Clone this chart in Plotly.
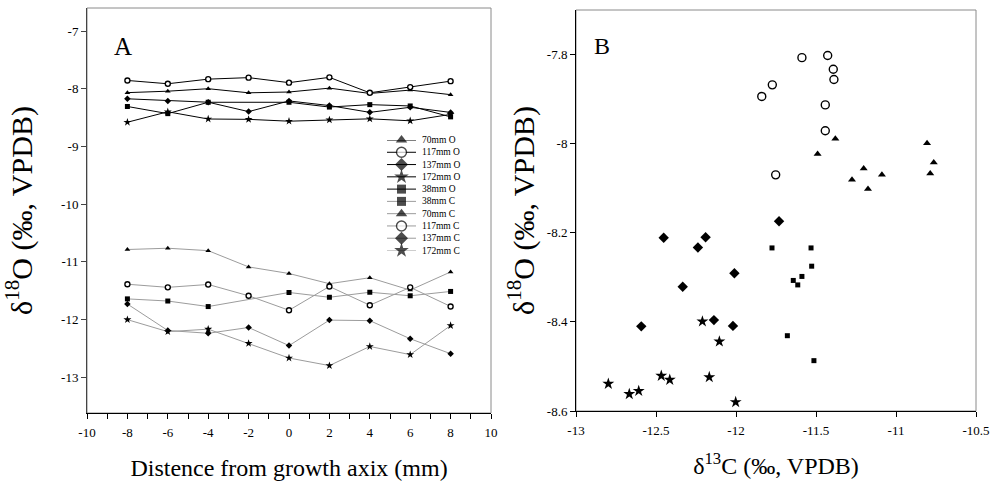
import plotly.graph_objects as go

# ---------------- data ----------------
positions = [-8, -6, -4, -2, 0, 2, 4, 6, 8]
positions_38 = [-8, -6, -4, 0, 2, 4, 6, 8]

o_70 = [-8.067, -8.042, -7.999, -8.070, -8.056, -7.989, -8.081, -8.023, -8.102]
c_70 = [-10.786, -10.764, -10.806, -11.088, -11.202, -11.379, -11.275, -11.490, -11.175]

o_117 = [-7.856, -7.913, -7.833, -7.807, -7.894, -7.802, -8.070, -7.971, -7.868]
c_117 = [-11.388, -11.442, -11.392, -11.588, -11.839, -11.427, -11.752, -11.442, -11.773]

o_137 = [-8.174, -8.210, -8.233, -8.396, -8.211, -8.291, -8.409, -8.321, -8.410]
c_137 = [-11.731, -12.190, -12.238, -12.138, -12.452, -12.010, -12.019, -12.333, -12.592]

o_172 = [-8.580, -8.399, -8.524, -8.530, -8.562, -8.539, -8.521, -8.555, -8.444]
c_172 = [-12.002, -12.210, -12.167, -12.414, -12.667, -12.798, -12.467, -12.608, -12.104]

o_38 = [-8.307, -8.431, -8.234, -8.234, -8.317, -8.275, -8.298, -8.487]
c_38 = [-11.642, -11.679, -11.775, -11.531, -11.614, -11.527, -11.588, -11.513]

legend_labels = ["70mm O", "117mm O", "137mm O", "172mm O", "38mm O",
                 "38mm C", "70mm C", "117mm C", "137mm C", "172mm C"]

xticks_a = [-10, -8, -6, -4, -2, 0, 2, 4, 6, 8, 10]
xticklabels_a = ["-10", "-8", "-6", "-4", "-2", "0", "2", "4", "6", "8", "10"]
yticks_a = [-13, -12, -11, -10, -9, -8, -7]
yticklabels_a = ["-13", "-12", "-11", "-10", "-9", "-8", "-7"]
xticks_b = [-13, -12.5, -12, -11.5, -11, -10.5]
xticklabels_b = ["-13", "-12.5", "-12", "-11.5", "-11", "-10.5"]
yticks_b = [-8.6, -8.4, -8.2, -8, -7.8]
yticklabels_b = ["-8.6", "-8.4", "-8.2", "-8", "-7.8"]

# ---------------- styles ----------------
FONT = "Liberation Serif"
BLACK = "black"
GRAY = "#9c9c9c"

sym = {"70mm": "triangle-up", "117mm": "circle", "137mm": "diamond",
       "172mm": "star", "38mm": "square"}
a_size = {"70mm": 5, "117mm": 5, "137mm": 5, "172mm": 6, "38mm": 5}
b_size = {"70mm": 7, "117mm": 8, "137mm": 8, "172mm": 9, "38mm": 5}
leg_size = {"70mm": 10, "117mm": 10, "137mm": 10, "172mm": 11, "38mm": 9}

def marker(name, size):
    if name == "117mm":
        return dict(symbol="circle", size=size, color="white",
                    line=dict(color=BLACK, width=1.4))
    return dict(symbol=sym[name], size=size, color=BLACK, line=dict(width=0))

series_o = [("70mm", positions, o_70), ("117mm", positions, o_117),
            ("137mm", positions, o_137), ("172mm", positions, o_172),
            ("38mm", positions_38, o_38)]
series_c = [("38mm", positions_38, c_38), ("70mm", positions, c_70),
            ("117mm", positions, c_117), ("137mm", positions, c_137),
            ("172mm", positions, c_172)]

fig = go.Figure()

# Panel A: C lines (gray) first, then O lines (black)
for name, xs, ys in series_c:
    fig.add_trace(go.Scatter(x=xs, y=ys, mode="lines+markers",
                             line=dict(color=GRAY, width=1),
                             marker=marker(name, a_size[name]),
                             xaxis="x", yaxis="y", showlegend=False))
for name, xs, ys in series_o:
    fig.add_trace(go.Scatter(x=xs, y=ys, mode="lines+markers",
                             line=dict(color=BLACK, width=1),
                             marker=marker(name, a_size[name]),
                             xaxis="x", yaxis="y", showlegend=False))

# Panel B: d13C vs d18O
pairs = [("70mm", c_70, o_70), ("117mm", c_117, o_117), ("137mm", c_137, o_137),
         ("172mm", c_172, o_172), ("38mm", c_38, o_38)]
for name, cx, oy in pairs:
    fig.add_trace(go.Scatter(x=cx, y=oy, mode="markers",
                             marker=marker(name, b_size[name]),
                             xaxis="x2", yaxis="y2", showlegend=False,
                             cliponaxis=False))

# Manual legend inside panel A (hidden axes x3/y3)
annotations = []
for i, lab in enumerate(legend_labels):
    name = lab.split()[0]
    col = BLACK if lab.endswith("O") else GRAY
    fig.add_trace(go.Scatter(x=[0, 1, 2], y=[i, i, i], mode="lines+markers",
                             line=dict(color=col, width=1),
                             marker=dict(**{**marker(name, leg_size[name]),
                                            "size": [0, leg_size[name], 0]}),
                             xaxis="x3", yaxis="y3", showlegend=False,
                             cliponaxis=False, hoverinfo="skip"))
    annotations.append(dict(x=2, y=i, xref="x3", yref="y3", text=lab,
                            showarrow=False, xanchor="left", xshift=4,
                            font=dict(family=FONT, size=9.5, color=BLACK)))

# ---------------- layout ----------------
W, H = 993, 486
ML, MR, MT, MB = 87, 17, 8, 73
pw = W - ML - MR
ph = H - MT - MB

def px2x(p):
    return (p - ML) / pw

def py2y(p):
    return (H - MB - p) / ph

tickfont = dict(family=FONT, size=13, color=BLACK)

annotations += [
    dict(x=0.062, y=0.906, xref="x domain", yref="y domain", text="A",
         showarrow=False, xanchor="left", yanchor="middle",
         font=dict(family=FONT, size=25, color=BLACK)),
    dict(x=0.04, y=0.909, xref="x2 domain", yref="y2 domain", text="B",
         showarrow=False, xanchor="left", yanchor="middle",
         font=dict(family=FONT, size=24, color=BLACK)),
]

shapes = [
    dict(type="rect", xref="x domain", yref="y domain", x0=0, x1=1, y0=0, y1=1,
         line=dict(color="#8a8a8a", width=1), layer="below"),
    dict(type="rect", xref="x2 domain", yref="y2 domain", x0=0, x1=1, y0=0, y1=1,
         line=dict(color="#8a8a8a", width=1), layer="below"),
]

fig.update_layout(
    template="none",
    width=W, height=H,
    margin=dict(l=ML, r=MR, t=MT, b=MB, pad=0),
    paper_bgcolor="white", plot_bgcolor="white",
    showlegend=False,
    font=dict(family=FONT, color=BLACK),
    annotations=annotations,
    shapes=shapes,
    xaxis=dict(domain=[0, px2x(491)], range=[-10, 10], tickvals=xticks_a,
               ticktext=xticklabels_a,
               ticks="outside", ticklen=5, tickwidth=1, tickcolor=BLACK,
               minor=dict(dtick=1, tick0=0, ticks="outside", ticklen=5,
                          tickwidth=1, tickcolor=BLACK, showgrid=False),
               showline=True, linecolor=BLACK, linewidth=1, showgrid=False,
               zeroline=False, tickfont=tickfont, ticklabelstandoff=2,
               title=dict(text="Distence from growth axix (mm)",
                          font=dict(family=FONT, size=24, color=BLACK), standoff=20),
               anchor="y"),
    yaxis=dict(domain=[0, 1], range=[-13.62, -6.6], tickvals=yticks_a,
               ticktext=yticklabels_a,
               ticks="outside", ticklen=5, tickwidth=1, tickcolor="#444",
               showline=True, linecolor="#444", linewidth=1, showgrid=False,
               zeroline=False, tickfont=tickfont,
               title=dict(text="δ<sup>18</sup>O (‰, VPDB)",
                          font=dict(family=FONT, size=30, color=BLACK), standoff=30),
               anchor="x"),
    xaxis2=dict(domain=[px2x(576), 1], range=[-13, -10.5], tickvals=xticks_b,
                ticktext=xticklabels_b,
                ticks="outside", ticklen=5, tickwidth=1, tickcolor=BLACK,
                showline=True, linecolor=BLACK, linewidth=1, showgrid=False,
                zeroline=False, tickfont=tickfont, ticklabelstandoff=2,
                title=dict(text="δ<sup>13</sup>C (‰, VPDB)",
                           font=dict(family=FONT, size=24, color=BLACK), standoff=20),
                anchor="y2"),
    yaxis2=dict(domain=[py2y(411), py2y(10)], range=[-8.6, -7.7], tickvals=yticks_b,
                ticktext=yticklabels_b,
                ticks="outside", ticklen=5, tickwidth=1, tickcolor=BLACK,
                showline=True, linecolor=BLACK, linewidth=1, showgrid=False,
                zeroline=False, tickfont=tickfont,
                title=dict(text="δ<sup>18</sup>O (‰, VPDB)",
                           font=dict(family=FONT, size=30, color=BLACK), standoff=3),
                anchor="x2"),
    xaxis3=dict(domain=[px2x(387), px2x(416)], range=[0, 2], visible=False,
                fixedrange=True, anchor="y3"),
    yaxis3=dict(domain=[py2y(250.5), py2y(140)], range=[9, 0], visible=False,
                fixedrange=True, anchor="x3"),
)

fig.write_html("out.html",
               config={"displayModeBar": False, "staticPlot": True},
               post_script="document.body.style.margin='0';"
                           "document.body.style.overflow='hidden';")
